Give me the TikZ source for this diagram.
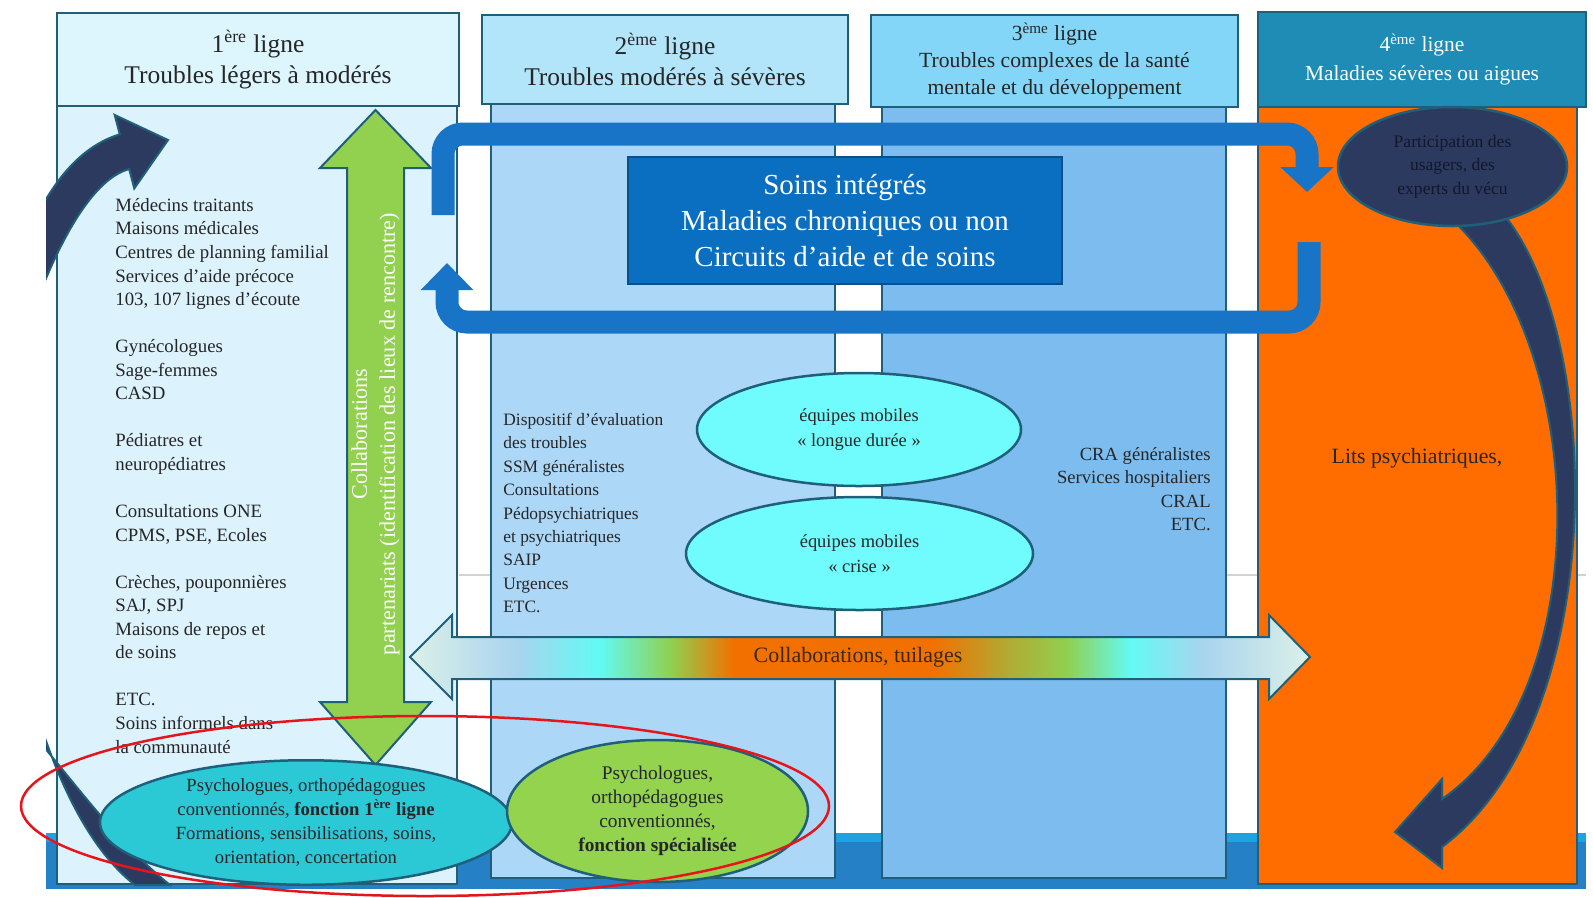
\documentclass[tikz,border=0pt]{standalone}
\usepackage{fontspec}
\setmainfont{Liberation Serif}
\usetikzlibrary{shapes.geometric, arrows.meta}

\definecolor{edgeteal}{HTML}{1F5F7A}
\definecolor{ink}{HTML}{262626}
\definecolor{inkdark}{HTML}{12172A}
\definecolor{inkbrown}{HTML}{3A2810}
\definecolor{head1}{HTML}{DDF5FD}
\definecolor{body1}{HTML}{DCF2FC}
\definecolor{head2}{HTML}{B3E5FA}
\definecolor{body2}{HTML}{ACD7F7}
\definecolor{head3}{HTML}{83D6F7}
\definecolor{body3}{HTML}{7DBCEE}
\definecolor{head4}{HTML}{1E8CB4}
\definecolor{body4}{HTML}{FF6D00}
\definecolor{loopblue}{HTML}{1874C6}
\definecolor{boxblue}{HTML}{0A6EC1}
\definecolor{boxedge}{HTML}{0B4E8A}
\definecolor{bandblue}{HTML}{2680C6}
\definecolor{bandlight}{HTML}{1EA2E2}
\definecolor{mobcyan}{HTML}{70FCFC}
\definecolor{cyanpsy}{HTML}{2BC9D5}
\definecolor{greenpsy}{HTML}{94D34E}
\definecolor{greenarrow}{HTML}{92D050}
\definecolor{navyarrow}{HTML}{2D3A60}
\definecolor{redline}{HTML}{E8141C}
\definecolor{palegreen}{HTML}{DCF0E8}
\definecolor{lightsky}{HTML}{A8D4EE}
\definecolor{aqua}{HTML}{62FAF4}
\definecolor{leaf}{HTML}{90D050}
\definecolor{orangebar}{HTML}{F27000}
\definecolor{oliveband}{HTML}{B4A830}

\pgfdeclarehorizontalshading{tuilage}{100bp}{color(0bp)=(palegreen); color(25bp)=(palegreen); color(31bp)=(lightsky); color(35.5bp)=(aqua); color(39.5bp)=(leaf); color(43bp)=(orangebar); color(54bp)=(orangebar); color(58bp)=(oliveband); color(61.5bp)=(leaf); color(65bp)=(aqua); color(69bp)=(lightsky); color(75bp)=(palegreen); color(100bp)=(palegreen)}

\tikzstyle{head} = [rectangle, draw=edgeteal, line width=0.4mm, align=center, text=ink, inner sep=0pt]
\tikzstyle{column} = [rectangle, draw=edgeteal, line width=0.4mm, inner sep=0pt]
\tikzstyle{mobile} = [ellipse, draw=edgeteal, line width=0.5mm, align=center, text=ink, inner sep=0pt]
\tikzstyle{liste} = [inner sep=0pt, text=ink]
\tikzstyle{loop} = [line width=4.6mm, draw=loopblue, rounded corners=4mm]
\tikzstyle{curved} = [fill=navyarrow, draw=edgeteal, line width=0.4mm]

\begin{document}
\begin{tikzpicture}[x=0.2mm, y=-0.2mm]

\useasboundingbox (0,0) rectangle (1593,897);

\fill [bandblue] (46,833) rectangle (1586,889);
\fill [bandlight] (46,833) rectangle (1586,842);
\draw [gray!35, line width=0.4mm] (459,575) -- (1586,575);

\node (b1) [column, fill=body1, minimum width=80mm, minimum height=155.6mm] at (257,495) {};
\node (b2) [column, fill=body2, minimum width=68.8mm, minimum height=154.8mm] at (663,491) {};
\node (b3) [column, fill=body3, minimum width=68.8mm, minimum height=154.2mm] at (1054,492.5) {};
\node (b4) [column, fill=body4, minimum width=63.8mm, minimum height=155.4mm] at (1417.5,495.5) {};

\node (h1) [head, fill=head1, minimum width=80.4mm, minimum height=18.6mm, font=\fontsize{14.5}{17.6}\selectfont] at (258,59.5) {1\textsuperscript{ère} ligne\\Troubles légers à modérés};
\node (h2) [head, fill=head2, minimum width=73.2mm, minimum height=17.8mm, font=\fontsize{14.5}{17.6}\selectfont] at (665,59.5) {2\textsuperscript{ème} ligne\\Troubles modérés à sévères};
\node (h3) [head, fill=head3, minimum width=73.4mm, minimum height=18.4mm, font=\fontsize{12.3}{15.4}\selectfont] at (1054.5,61) {3\textsuperscript{ème} ligne\\Troubles complexes de la santé\\mentale et du développement};
\node (h4) [head, fill=head4, text=white, minimum width=65.6mm, minimum height=19mm, font=\fontsize{12.2}{16.5}\selectfont] at (1422,59.5) {4\textsuperscript{ème} ligne\\Maladies sévères ou aigues};

\node (l1) [liste, anchor=north west, align=left, font=\fontsize{10.7}{13.4}\selectfont] at (115,198) {Médecins traitants\\Maisons médicales\\Centres de planning familial\\Services d'aide précoce\\103, 107 lignes d'écoute\\[13.4pt]Gynécologues\\Sage-femmes\\CASD\\[13.4pt]Pédiatres et\\neuropédiatres\\[13.4pt]Consultations ONE\\CPMS, PSE, Ecoles\\[13.4pt]Crèches, pouponnières\\SAJ, SPJ\\Maisons de repos et\\de soins\\[13.4pt]ETC.\\Soins informels dans\\la communauté};
\node (l2) [liste, anchor=north west, align=left, font=\fontsize{9.9}{13.3}\selectfont] at (503,413) {Dispositif d'évaluation\\des troubles\\SSM généralistes\\Consultations\\Pédopsychiatriques\\et psychiatriques\\SAIP\\Urgences\\ETC.};
\node (l3) [liste, anchor=north east, align=right, font=\fontsize{10.6}{13.4}\selectfont] at (1211,447) {CRA généralistes\\Services hospitaliers\\CRAL\\ETC.};
\node (lits) [liste, font=\fontsize{12.4}{14}\selectfont] at (1417,458) {Lits psychiatriques,};

\filldraw [fill=greenarrow, draw=edgeteal, line width=0.4mm] (375.5,110) -- (431,168) -- (404,168) -- (404,702) -- (431,702) -- (375.5,765) -- (320,702) -- (347,702) -- (347,168) -- (320,168) -- cycle;
\node (partenariats) [rotate=90, align=center, text=white, font=\fontsize{12.6}{16}\selectfont] at (375.5,434) {Collaborations\\partenariats (identification des lieux de rencontre)};

\shadedraw [shading=tuilage, draw=edgeteal, line width=0.4mm] (410,657) -- (452,615) -- (452,637) -- (1269,637) -- (1269,615) -- (1310,657) -- (1269,699) -- (1269,679) -- (452,679) -- (452,699) -- cycle;
\node (tuilages) [font=\fontsize{12.5}{14}\selectfont, text=inkbrown] at (858,657) {Collaborations, tuilages};

\coordinate (allerA) at (443,215);
\coordinate (allerB) at (1307,192);
\coordinate (retourA) at (1309,242);
\coordinate (retourB) at (447,263);
\draw [loop, -{Triangle[width=10.4mm, length=5mm]}] (allerA) -- (443,134) -- (1307,134) -- (allerB);
\draw [loop, -{Triangle[width=10.2mm, length=5.4mm]}] (retourA) -- (1309,322) -- (447,322) -- (retourB);

\node (soins) [rectangle, fill=boxblue, draw=boxedge, line width=0.5mm, minimum width=86.8mm, minimum height=25.4mm, text=white, align=center, font=\fontsize{16.5}{20.5}\selectfont] at (845,220.5) {Soins intégrés\\Maladies chroniques ou non\\Circuits d'aide et de soins};

\node (longue) [mobile, fill=mobcyan, minimum width=64.8mm, minimum height=22.6mm, font=\fontsize{10.5}{13.9}\selectfont] at (859,429.5) {équipes mobiles\\« longue durée »};
\node (crise) [mobile, fill=mobcyan, minimum width=69.4mm, minimum height=22.6mm, font=\fontsize{10.5}{13.9}\selectfont] at (859.5,553.5) {équipes mobiles\\« crise »};

\filldraw [curved] (1500,210) .. controls (1605,330) and (1612,720) .. (1442,847) -- (1442,868) -- (1395,832) -- (1442,779) -- (1442,799) .. controls (1600,690) and (1590,340) .. (1447,215) -- cycle;
\node (usagers) [mobile, fill=navyarrow, text=inkdark, minimum width=45.8mm, minimum height=23.8mm, font=\fontsize{10}{13.4}\selectfont] at (1452.5,166.5) {Participation des\\usagers, des\\experts du vécu};

\begin{scope}
\clip (46,0) rectangle (1593,897);
\filldraw [curved] (30,230) .. controls (55,175) and (85,145) .. (119.8,134.3) -- (114.7,115) -- (168,140) -- (134.3,188.4) -- (129.2,169.1) .. controls (95,178) and (60,235) .. (30,320) -- cycle;
\filldraw [curved] (30,690) .. controls (55,780) and (90,850) .. (135,885) -- (170,885) .. controls (120,845) and (80,790) .. (30,730) -- cycle;
\end{scope}

\node (psy1) [mobile, fill=cyanpsy, minimum width=82.4mm, minimum height=23mm, font=\fontsize{10.6}{13.7}\selectfont] at (306,822.5) {Psychologues, orthopédagogues\\conventionnés, \textbf{fonction 1\textsuperscript{ère} ligne}\\Formations, sensibilisations, soins,\\orientation, concertation};
\node (psy2) [mobile, fill=greenpsy, minimum width=60.2mm, minimum height=28.4mm, font=\fontsize{11}{13.7}\selectfont] at (657.5,811) {Psychologues,\\orthopédagogues\\conventionnés,\\\textbf{fonction spécialisée}};

\node (rouge) [ellipse, draw=redline, line width=0.5mm, minimum width=161.6mm, minimum height=36mm] at (425,806) {};

\end{tikzpicture}
\end{document}
